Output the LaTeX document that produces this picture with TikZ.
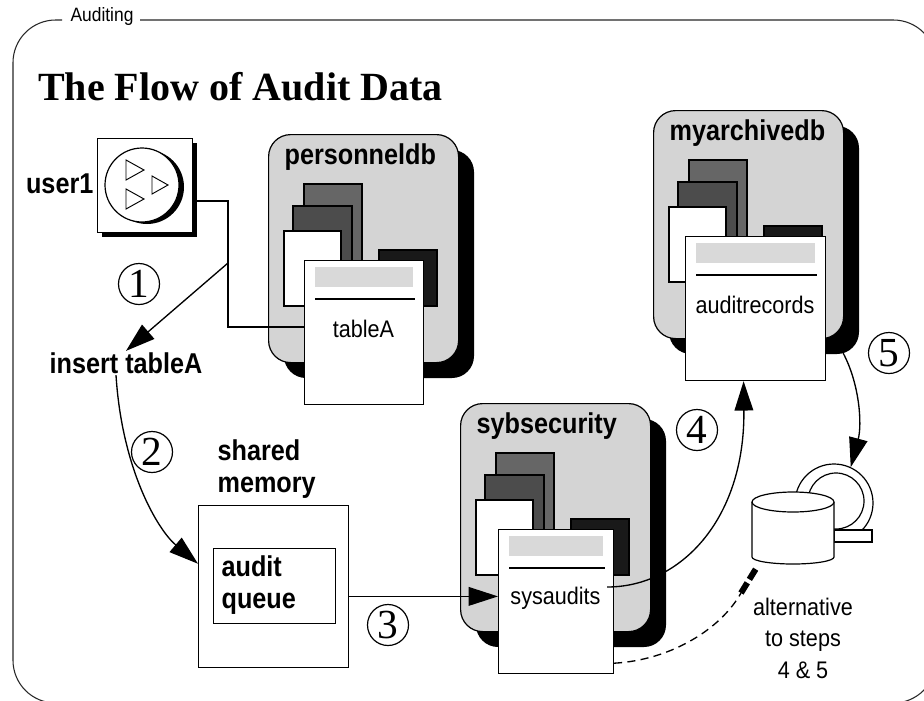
\documentclass[tikz,border=0pt]{standalone}
\usepackage{fontspec}
\setmainfont{Liberation Serif}
\newfontfamily\lblfont[FakeStretch=0.88]{Liberation Sans}
\newfontfamily\lblfontw[FakeStretch=0.9]{Liberation Sans}
\usetikzlibrary{arrows.meta,calc}

% lengths given in image pixels
\newcommand\pxl[1]{#1*0.75pt}

\tikzset{
  outline/.style={draw=black, line width=0.9pt},
  boldlbl/.style={font=\lblfont\bfseries\fontsize{21.5}{24}\selectfont, inner sep=1pt},
  lbl/.style={font=\lblfontw\fontsize{18}{23.6}\selectfont, inner sep=1pt},
  circnum/.style={circle, draw, line width=0.9pt, minimum size=\pxl{41}, inner sep=0pt,
    font=\fontsize{31}{31}\selectfont},
  flow/.style={line width=1pt, -{Triangle[length=22pt, width=14pt]}},
  dbbox/.style={outline, fill=black!17, rounded corners=16.5pt, minimum width=\pxl{190},
    minimum height=\pxl{228}, inner sep=0pt, anchor=north west},
  tabfront/.style={outline, fill=white, minimum height=\pxl{144}, inner sep=0pt, anchor=north west},
}

% database icon: name, x, y, database label, table label, table offset, table width
\newcommand\dbicon[7]{%
  \begin{scope}[shift={(#2,#3)}]
    \fill[black, rounded corners=16.5pt] (16,16) rectangle (206,244);
    \node[dbbox] (#1) at (0,0) {};
    \node[boldlbl, anchor=west] (#1-lbl) at (15,23) {#4};
    \draw[outline, fill=black!60] (36,50) rectangle (94,165);
    \draw[outline, fill=black!70] (25,72) rectangle (84,165);
    \draw[outline, fill=white] (16,97) rectangle (73,172);
    \draw[outline, fill=black!90] (111,116) rectangle (169,172);
    \node[tabfront, minimum width=\pxl{#7}] (#1-tab) at (#6,126) {};
    \fill[black!15] (#6+11,133) rectangle (#6+#7-10,153);
    \draw[line width=1.2pt] (#6+11,165) -- (#6+#7-8,165);
    \node[lbl] (#1-name) at (#6+#7/2,195) {#5};
  \end{scope}}

\begin{document}
\begin{tikzpicture}[x=0.75pt, y=-0.75pt]
\useasboundingbox (0,0) rectangle (924,700);
\clip (0,0) rectangle (924,700);

% outer frame with its tab label
\draw[line width=0.8pt, black!85, rounded corners=32pt]
  (140,20) -- (936,20) -- (936,703) -- (13,703) -- (13,20) -- (62,20);
\node[font=\lblfontw\fontsize{14.5}{16}\selectfont, inner sep=0pt] (tag) at (102,17) {Auditing};

% title
\node[anchor=base west, font=\bfseries\fontsize{30}{36}\selectfont, inner sep=0pt]
  (title) at (38,100) {The Flow of Audit Data};

% user1 terminal
\fill (102,143) rectangle (197,237);
\node[outline, fill=white, minimum width=\pxl{95}, minimum height=\pxl{94}, inner sep=0pt,
  anchor=north west] (user) at (97,138) {};
\fill (147,187) circle[radius=37];
\node[circle, outline, fill=white, minimum size=\pxl{74}, inner sep=0pt] (usericon) at (142,185) {};
\draw[line width=0.7pt, fill=white] (126,160) -- (144,170) -- (126,180) -- cycle;
\draw[line width=0.7pt, fill=white] (152,176) -- (168,185) -- (152,194) -- cycle;
\draw[line width=0.7pt, fill=white] (126,189) -- (144,199) -- (126,209) -- cycle;
\node[boldlbl, anchor=east] (userlbl) at ($(user.west)+(-2,-2)$) {user1};

% databases
\dbicon{personneldb}{268}{134}{personneldb}{tableA}{36}{119}
\dbicon{sybsecurity}{460}{403}{sybsecurity}{sysaudits}{38}{115}
\dbicon{myarchivedb}{653}{110}{myarchivedb}{auditrecords}{32}{140}

% shared memory with the audit queue
\node[outline, fill=white, minimum width=\pxl{150}, minimum height=\pxl{162}, inner sep=0pt,
  anchor=north west] (shmem) at (198,505) {};
\node[outline, minimum width=\pxl{122}, minimum height=\pxl{75}, inner sep=0pt,
  anchor=north west] (queue) at (213,548) {};
\node[boldlbl, align=left, anchor=west] (queuetxt) at (220,585) {audit\\queue};
\node[boldlbl, align=left, anchor=west] (shmemlbl) at (216,469) {shared\\memory};

% insert command
\node[boldlbl] (insert) at (126,363) {insert tableA};

% archive device: tape reel and disk
\node[circle, outline, fill=white, minimum size=\pxl{78}, inner sep=0pt] (reel) at (834,503) {};
\draw[outline] (836,501) circle[radius=28];
\draw[outline, fill=white] (834,530) rectangle (872,542);
\draw[outline, fill=white] (752,502) -- (752,557)
  arc[start angle=180, end angle=0, x radius=41, y radius=7] -- (834,502);
\draw[outline, fill=white] (793,502) ellipse[x radius=41, y radius=10];
\coordinate (diskend) at (757,567);

% step 1: user1 sends the insert, which reaches tableA
\coordinate (uout) at ($(user.north east)!0.66!(user.south east)$);
\coordinate (elbow) at (228,327);
\coordinate (fork) at (228,263);
\draw[line width=1.8pt] (uout) -| (elbow) -- (elbow -| personneldb-tab.west);
\draw[flow] (fork) -- (insert.north);

% step 2: into the audit queue
\draw[flow] ($(insert.south)+(-10,0)$) .. controls (122,470) and (158,530) ..
  ($(shmem.north west)!0.36!(shmem.south west)$);

% step 3: queue flushed to sysaudits
\coordinate (q3) at ($(shmem.north east)!0.56!(shmem.south east)$);
\draw[flow] (q3) -- (q3 -| sybsecurity-tab.west);

% step 4: sysaudits copied to auditrecords
\coordinate (a4) at ($(sybsecurity-tab.north east)+(-7,58)$);
\draw[flow] (a4) .. controls (680,587) and (745,520) .. ($(myarchivedb-tab.south)+(-12,0)$);

% step 5: archive database dumped to the device
\draw[flow] ($(myarchivedb.south east)+(-1,14)$) .. controls (860,385) and (862,425) .. (reel.65);

% alternative path straight to the device
\coordinate (dstart) at ($(sybsecurity-tab.south east)+(0,-11)$);
\coordinate (dmid) at (741,593);
\draw[line width=1pt, dash pattern=on 6pt off 4pt] (dstart) .. controls (670,660) and (720,630) .. (dmid);
\draw[line width=4.5pt, dash pattern=on 9pt off 3pt] (dmid) -- (diskend);
\node[lbl, align=center] (alt) at (803,638) {alternative\\to steps\\4 \& 5};

% step numbers
\node[circnum] (s1) at (139,284) {1};
\node[circnum] (s2) at (152,452) {2};
\node[circnum] (s3) at (388,625) {3};
\node[circnum] (s4) at (697,430) {4};
\node[circnum] (s5) at (889,353) {5};
\end{tikzpicture}
\end{document}
